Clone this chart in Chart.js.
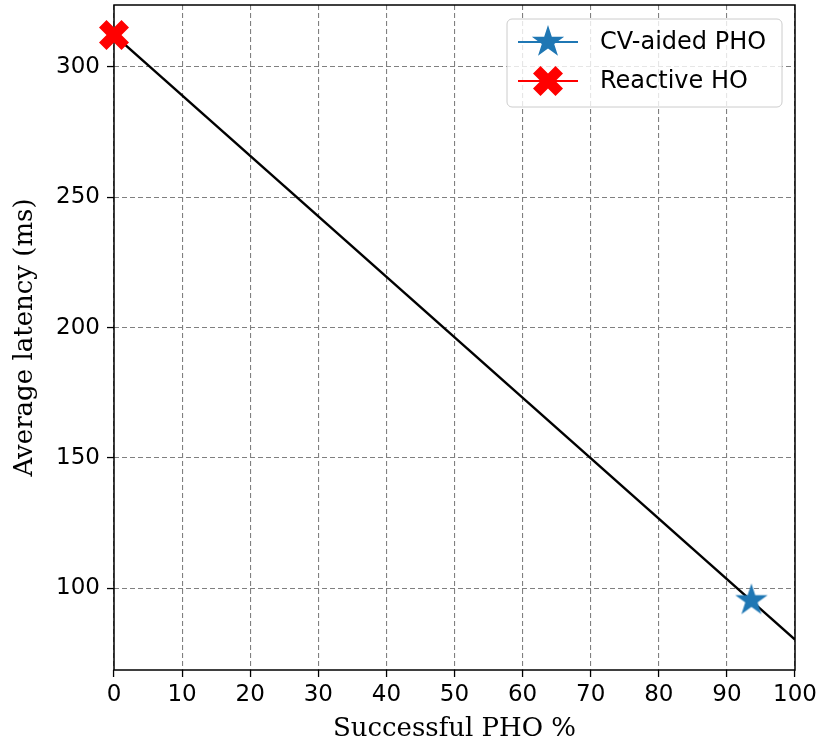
<!DOCTYPE html>
<html>
<head>
<meta charset="utf-8">
<script src="https://cdn.jsdelivr.net/npm/chart.js@4.4.1/dist/chart.umd.min.js"></script>
<style>
  html, body { margin: 0; padding: 0; background: #fff; }
  #wrap { width: 824px; height: 745px; }
</style>
</head>
<body>
<div id="wrap"><canvas id="chart"></canvas></div>
<script>
// values
var fitX = [0, 100];
var fitY = [312.3, 80.3];
var cvAidedPHO = [{ x: 93.6, y: 95.3 }];
var reactiveHO = [{ x: 0, y: 312.3 }];
var xTicks = [0, 10, 20, 30, 40, 50, 60, 70, 80, 90, 100];
var yTicks = [100, 150, 200, 250, 300];

var BLUE = "#1f77b4";
var RED = "#ff0000";
var tickFont = { family: "DejaVu Sans", size: 23 };
var legendFont = "24px 'DejaVu Sans'";
var titleFont = { family: "DejaVu Serif", size: 26 };

function starImage(size, color) {
    var c = document.createElement("canvas");
    c.width = size; c.height = size;
    var g = c.getContext("2d");
    var R = size / 2 - 1, r = R * 0.381966, cx = size / 2, cy = size / 2;
    g.beginPath();
    for (var i = 0; i < 10; i++) {
        var rad = i % 2 === 0 ? R : r;
        var a = -Math.PI / 2 + i * Math.PI / 5;
        var px = cx + rad * Math.cos(a), py = cy + rad * Math.sin(a);
        if (i === 0) g.moveTo(px, py); else g.lineTo(px, py);
    }
    g.closePath();
    g.fillStyle = color;
    g.fill();
    return c;
}

function xImage(size, color) {
    var c = document.createElement("canvas");
    c.width = size + 2; c.height = size + 2;
    var g = c.getContext("2d");
    var pts = [[0.25, 0], [0.5, 0.25], [0.75, 0], [1, 0.25], [0.75, 0.5], [1, 0.75],
               [0.75, 1], [0.5, 0.75], [0.25, 1], [0, 0.75], [0.25, 0.5], [0, 0.25]];
    g.beginPath();
    pts.forEach(function (p, i) {
        var px = 1 + p[0] * size, py = 1 + p[1] * size;
        if (i === 0) g.moveTo(px, py); else g.lineTo(px, py);
    });
    g.closePath();
    g.fillStyle = color;
    g.fill();
    return c;
}

var starImg = starImage(36, BLUE);
var crossImg = xImage(30, RED);

// frame around the plot + matplotlib-like legend box in the upper right
var framePlugin = {
    id: "frame",
    beforeDatasetsDraw: function (chart) {
        var a = chart.chartArea, ctx = chart.ctx;
        ctx.save();
        ctx.strokeStyle = "#000";
        ctx.lineWidth = 1.5;
        ctx.strokeRect(a.left, a.top, a.right - a.left, a.bottom - a.top);
        ctx.restore();
    },
    afterDraw: function (chart) {
        var ctx = chart.ctx;
        var bx = 507, by = 19, bw = 275, bh = 88, rad = 5;
        ctx.save();
        ctx.beginPath();
        ctx.moveTo(bx + rad, by);
        ctx.arcTo(bx + bw, by, bx + bw, by + bh, rad);
        ctx.arcTo(bx + bw, by + bh, bx, by + bh, rad);
        ctx.arcTo(bx, by + bh, bx, by, rad);
        ctx.arcTo(bx, by, bx + bw, by, rad);
        ctx.closePath();
        ctx.fillStyle = "rgba(255,255,255,0.8)";
        ctx.fill();
        ctx.strokeStyle = "#cccccc";
        ctx.lineWidth = 1;
        ctx.stroke();

        var rows = chart.data.datasets.filter(function (d) { return d.inLegend; });
        rows.forEach(function (d, i) {
            var y = 42 + i * 39;
            ctx.strokeStyle = d.borderColor;
            ctx.lineWidth = 2;
            ctx.beginPath();
            ctx.moveTo(518, y);
            ctx.lineTo(578, y);
            ctx.stroke();
            var img = d.pointStyle;
            ctx.drawImage(img, 548 - img.width / 2, y - img.height / 2);
            ctx.fillStyle = "#000";
            ctx.font = legendFont;
            ctx.textBaseline = "middle";
            ctx.fillText(d.label, 600, y + 1);
        });
        ctx.restore();
    }
};

var gridOpts = {
    color: "#808080",
    lineWidth: 1.1,
    tickColor: "#000",
    tickLength: 7,
    tickWidth: 1.3,
    tickBorderDash: [],
};

new Chart(document.getElementById("chart"), {
    type: "scatter",
    data: {
        datasets: [
            {
                label: "CV-aided PHO",
                data: cvAidedPHO,
                pointStyle: starImg,
                borderColor: BLUE,
                backgroundColor: BLUE,
                inLegend: true,
                clip: false,
                order: 1,
            },
            {
                label: "Reactive HO",
                data: reactiveHO,
                pointStyle: crossImg,
                borderColor: RED,
                backgroundColor: RED,
                inLegend: true,
                clip: false,
                order: 1,
            },
            {
                label: "fit",
                data: fitX.map(function (x, i) { return { x: x, y: fitY[i] }; }),
                showLine: true,
                borderColor: "#000",
                borderWidth: 2.4,
                pointRadius: 0,
                order: 2,
            },
        ],
    },
    options: {
        responsive: true,
        maintainAspectRatio: false,
        animation: false,
        layout: { padding: { top: 5, right: 29, left: 0, bottom: 0 } },
        plugins: {
            legend: { display: false },
            tooltip: { enabled: false },
        },
        scales: {
            x: {
                type: "linear",
                min: 0,
                max: 100,
                afterBuildTicks: function (s) { s.ticks = xTicks.map(function (v) { return { value: v }; }); },
                afterFit: function (s) { s.height = 75; s.paddingLeft = 0; },
                border: { display: false, dash: [5, 3] },
                grid: gridOpts,
                ticks: { color: "#000", font: tickFont, padding: 4, maxRotation: 0 },
                title: { display: true, text: "Successful PHO %", color: "#000", font: titleFont, padding: { top: 0, bottom: 0 } },
            },
            y: {
                type: "linear",
                min: 68.6,
                max: 323.8,
                afterBuildTicks: function (s) { s.ticks = yTicks.map(function (v) { return { value: v }; }); },
                afterFit: function (s) { s.width = 114; s.paddingTop = 0; s.paddingBottom = 0; },
                border: { display: false, dash: [5, 3] },
                grid: gridOpts,
                ticks: { color: "#000", font: tickFont, padding: 7 },
                title: { display: true, text: "Average latency (ms)", color: "#000", font: titleFont, padding: { top: 10, bottom: 0 } },
            },
        },
    },
    plugins: [framePlugin],
});
</script>
</body>
</html>
